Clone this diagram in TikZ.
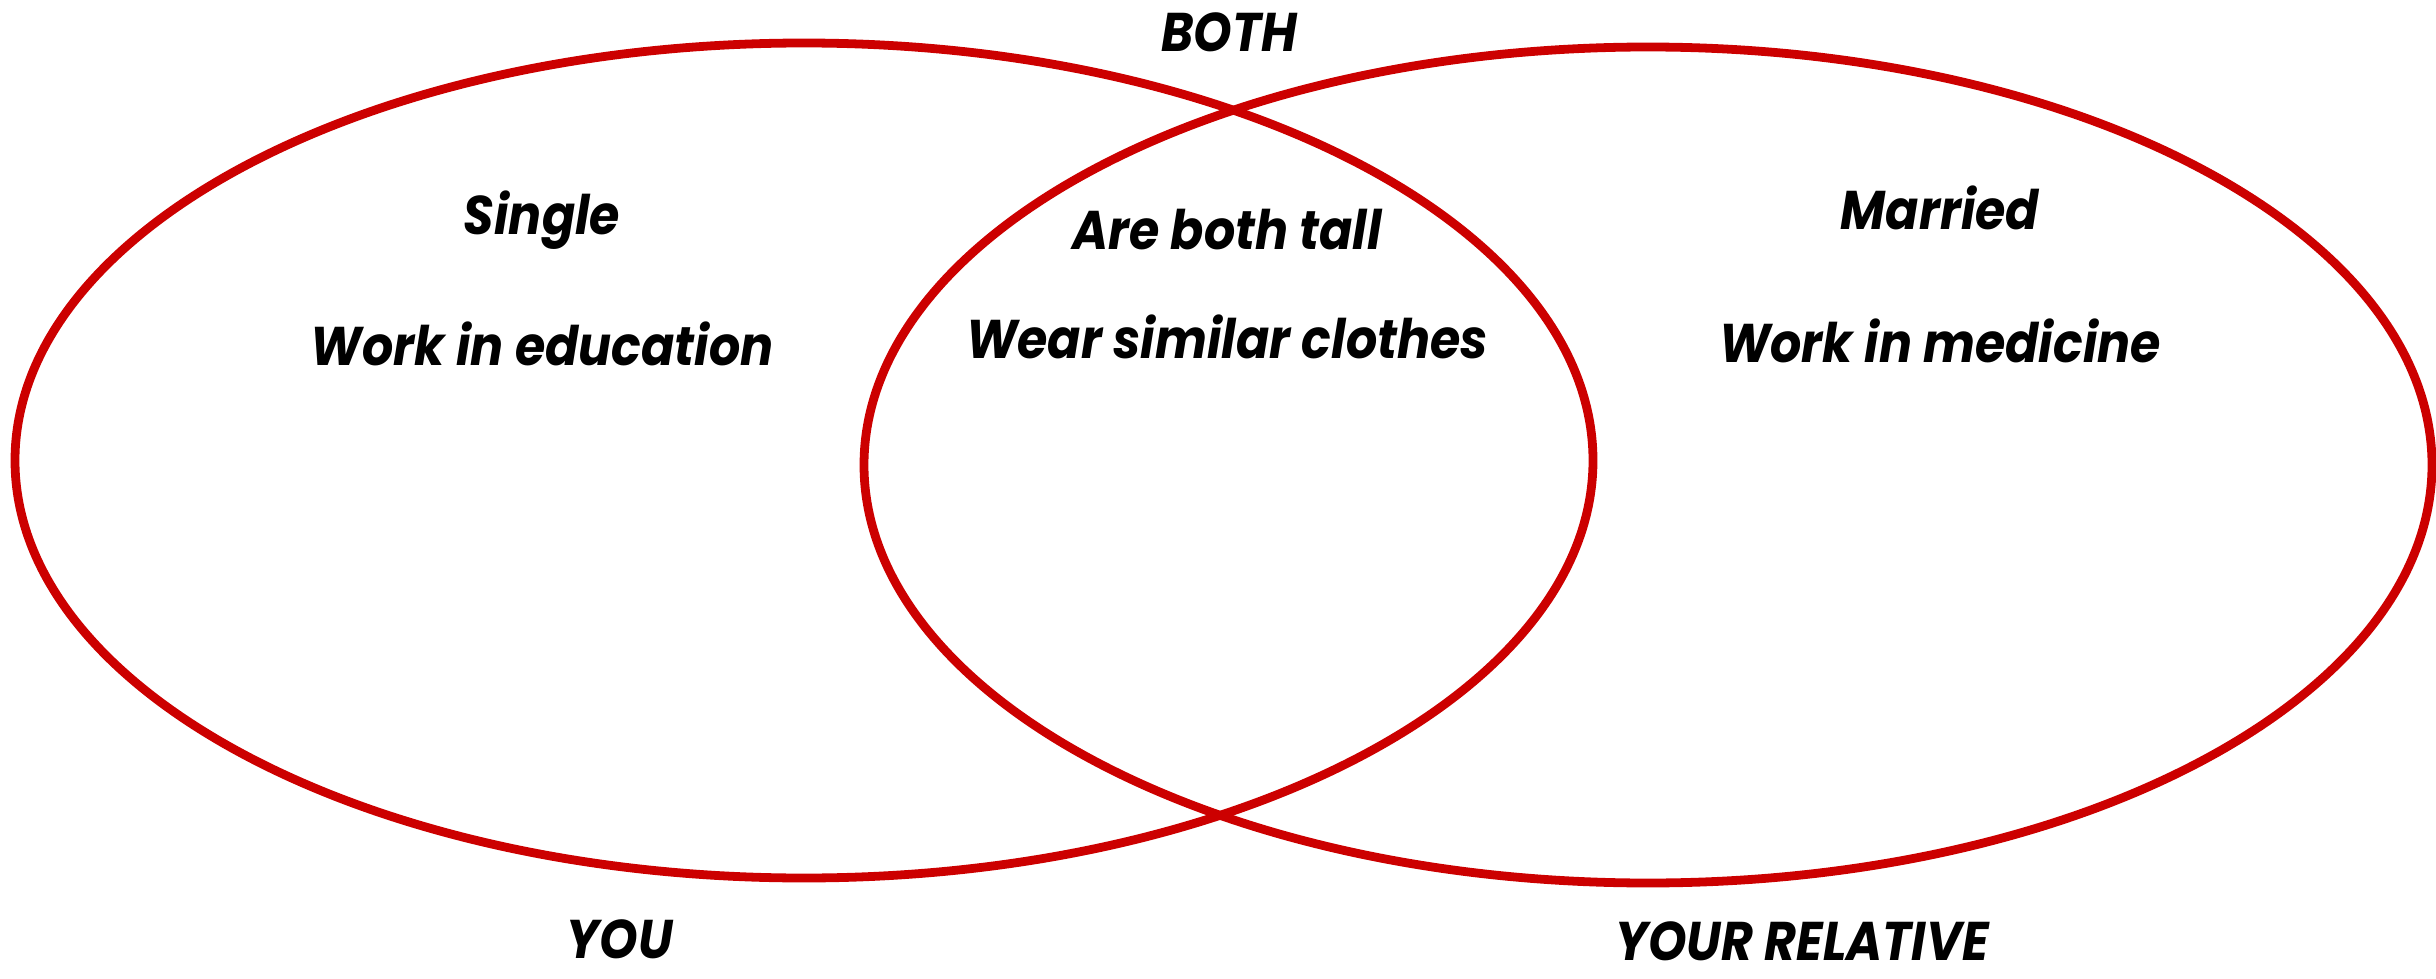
\documentclass[tikz,border=0pt]{standalone}
\usepackage{fontspec}
\setmainfont{Poppins}[FakeStretch=0.9]
\definecolor{vennred}{HTML}{CC0000}
\tikzset{
  venn/.style={draw=vennred, line width=2.5pt},
  lbl/.style={anchor=base, inner sep=0pt, font=\fontsize{15.5}{18}\selectfont\bfseries\itshape, text=black}
}
\begin{document}
\begin{tikzpicture}[x=0.01cm,y=-0.01cm]
\useasboundingbox[fill=white] (0,0) rectangle (2436,979);
\draw[venn] (804,460.5) ellipse [x radius=789, y radius=417.5];
\draw[venn] (1648,465) ellipse [x radius=784, y radius=418];
\node[lbl] (both) at (1229,52) {BOTH};
\node[lbl] (single) at (542,235) {Single};
\node[lbl] (edu) at (542,365) {Work in education};
\node[lbl] (tall) at (1227,250) {Are both tall};
\node[lbl] (clothes) at (1227,358) {Wear similar clothes};
\node[lbl] (married) at (1940,230) {Married};
\node[lbl] (med) at (1940,362) {Work in medicine};
\node[lbl, text depth=0pt] (you) at (620,958) {YOU};
\node[lbl] (rel) at (1802,960) {YOUR RELATIVE};
\end{tikzpicture}
\end{document}
